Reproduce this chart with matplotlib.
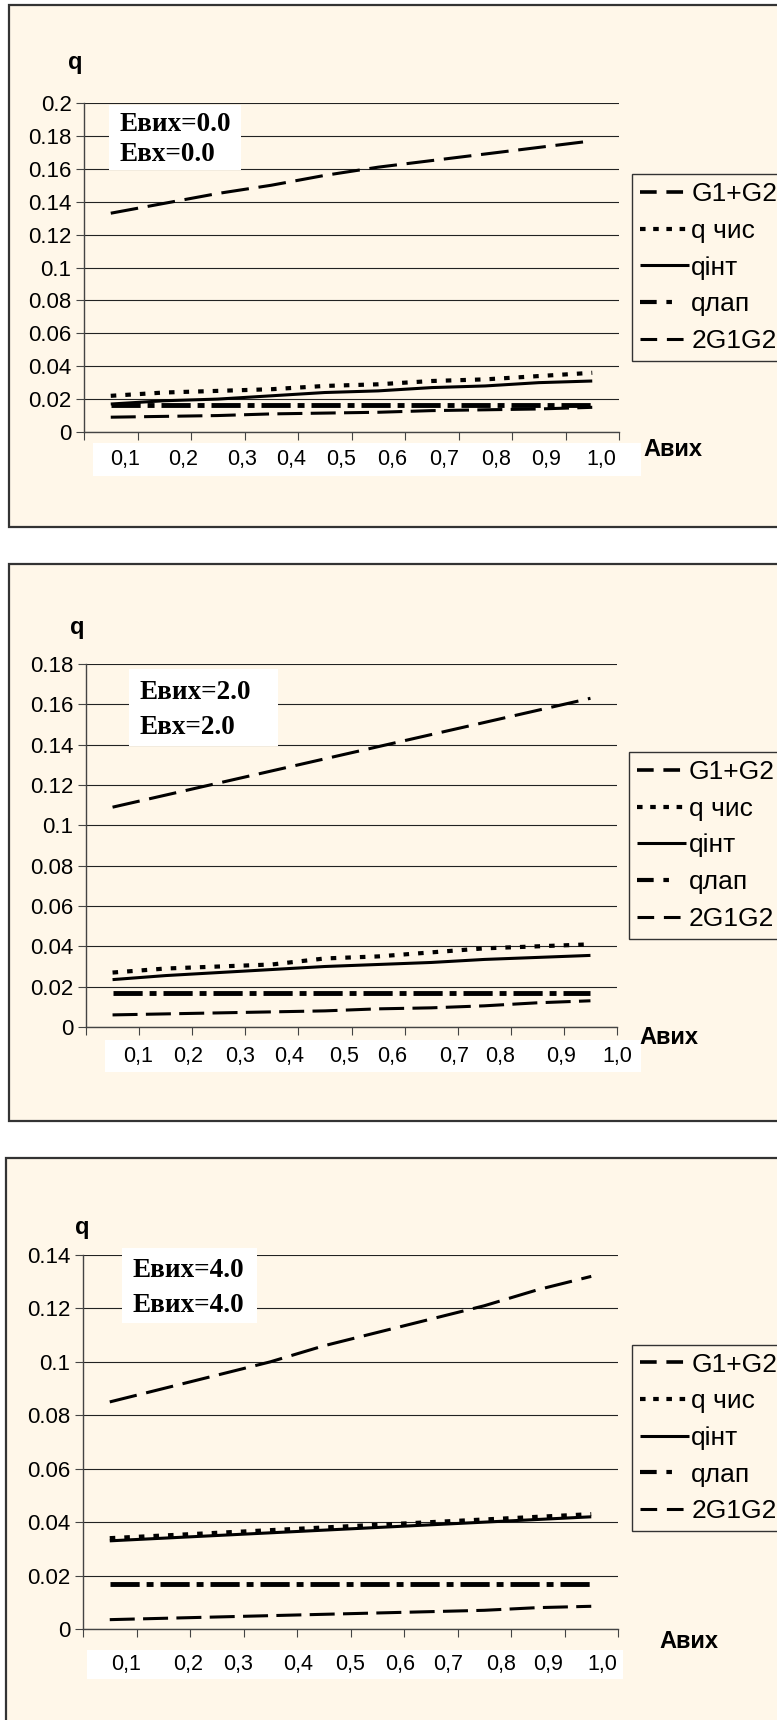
import numpy as np
import matplotlib.pyplot as plt
from matplotlib.patches import Rectangle
from matplotlib.lines import Line2D
import matplotlib.transforms as mtransforms

plt.rcParams['font.family'] = ['Liberation Sans', 'DejaVu Sans']
plt.rcParams['lines.scale_dashes'] = False

W, H = 777, 1720
BG = '#fff7e9'

# category labels of the x axis
x_labels = ['0,1', '0,2', '0,3', '0,4', '0,5', '0,6', '0,7', '0,8', '0,9', '1,0']
names = ['G1+G2', 'q чис', 'qінт', 'qлап', '2G1G2']

# panel 1 : Евих=0.0, Евх=0.0
g12_a = [0.133, 0.139, 0.145, 0.150, 0.156, 0.161, 0.165, 0.169, 0.173, 0.177]
qch_a = [0.022, 0.024, 0.025, 0.026, 0.028, 0.029, 0.031, 0.032, 0.034, 0.036]
qint_a = [0.017, 0.019, 0.020, 0.022, 0.024, 0.025, 0.027, 0.028, 0.030, 0.031]
qlap_a = [0.0165] * 10
g2_a = [0.009, 0.0095, 0.010, 0.011, 0.0115, 0.012, 0.013, 0.0135, 0.014, 0.015]

# panel 2 : Евих=2.0, Евх=2.0
g12_b = [0.109, 0.115, 0.121, 0.127, 0.133, 0.139, 0.145, 0.151, 0.157, 0.163]
qch_b = [0.027, 0.029, 0.030, 0.031, 0.034, 0.035, 0.037, 0.039, 0.040, 0.041]
qint_b = [0.0235, 0.0255, 0.027, 0.0285, 0.030, 0.031, 0.032, 0.0335, 0.0345, 0.0355]
qlap_b = [0.0167] * 10
g2_b = [0.006, 0.0065, 0.007, 0.0075, 0.008, 0.009, 0.0095, 0.0105, 0.012, 0.013]

# panel 3 : Евих=4.0 (twice, as in the source)
g12_c = [0.085, 0.090, 0.095, 0.100, 0.106, 0.111, 0.116, 0.121, 0.127, 0.132]
qch_c = [0.034, 0.035, 0.036, 0.037, 0.038, 0.039, 0.040, 0.041, 0.042, 0.043]
qint_c = [0.033, 0.034, 0.035, 0.036, 0.037, 0.038, 0.039, 0.040, 0.041, 0.042]
qlap_c = [0.0167] * 10
g2_c = [0.0035, 0.004, 0.0045, 0.005, 0.0055, 0.006, 0.0065, 0.007, 0.008, 0.0085]

styles = [
    dict(lw=2.2, dashes=(20, 7)),
    dict(lw=3.0, dashes=(4, 6.5)),
    dict(lw=2.2, linestyle='-'),
    dict(lw=3.5, dashes=(21, 5, 5, 5)),
    dict(lw=2.2, dashes=(18, 6)),
]
# shorter patterns for the legend keys
leg_styles = [
    dict(lw=2.6, dashes=(12, 7)),
    dict(lw=3.0, dashes=(4, 5.5)),
    dict(lw=2.2, linestyle='-'),
    dict(lw=3.0, dashes=(12, 7, 4, 100)),
    dict(lw=2.2, dashes=(12, 7)),
]

fig = plt.figure(figsize=(W / 100, H / 100), dpi=100, facecolor='white')


def frame(x0, y0, y1):
    r = Rectangle((x0 / W, 1 - y1 / H), 1.2, (y1 - y0) / H, transform=fig.transFigure,
                  facecolor=BG, edgecolor='#333333', lw=1.6, zorder=-10)
    fig.patches.append(r)


def panel(box, series, ymax, texts, lab_pos, band, tbox, leg, q_pos, a_pos):
    l, r, t, b = box
    ax = fig.add_axes([l / W, 1 - b / H, (r - l) / W, (b - t) / H])
    ax.set_facecolor('none')
    x = np.arange(10)
    for s, st in zip(series, styles):
        ax.plot(x, s, color='black', solid_capstyle='butt', dash_capstyle='butt', **st)
    ax.set_xlim(-0.5, 9.5)
    ax.set_ylim(0, ymax)
    ax.set_yticks(np.arange(0, ymax + 1e-9, 0.02))
    ax.yaxis.set_major_formatter(plt.FuncFormatter(lambda v, p: f'{v:g}'))
    ax.set_xticks(np.arange(-0.5, 10, 1))
    ax.set_xticklabels([])
    ax.grid(axis='y', color='#222222', lw=0.8)
    ax.set_axisbelow(True)
    for sp in ['top', 'right']:
        ax.spines[sp].set_visible(False)
    for sp in ['left', 'bottom']:
        ax.spines[sp].set_color('#444444')
        ax.spines[sp].set_linewidth(1.0)
    ax.tick_params(axis='y', length=6, width=0.8, color='#444444', labelsize=16, pad=3)
    ax.tick_params(axis='x', length=6, width=0.8, color='#444444')

    # white band with category labels
    ax.add_patch(Rectangle((band[0], band[2]), band[1] - band[0], band[3] - band[2],
                           transform=ax.transAxes, facecolor='white', edgecolor='none',
                           clip_on=False, zorder=1))
    tr = mtransforms.blended_transform_factory(ax.transData, ax.transAxes)
    ymid = (band[2] + band[3]) / 2
    for px, lab in zip(lab_pos, x_labels):
        ax.text(px, ymid, lab, transform=tr, ha='center', va='center',
                fontsize=15.5, zorder=2)

    # white box with the parameter values
    ax.add_patch(Rectangle((tbox[0], tbox[2]), tbox[1] - tbox[0], tbox[3] - tbox[2],
                           transform=ax.transAxes, facecolor='white', edgecolor='none',
                           clip_on=False, zorder=3))
    h = tbox[3] - tbox[2]
    for k, tx in enumerate(texts):
        ax.text(tbox[0] + 0.02, tbox[3] - h * (0.30 + 0.46 * k), tx, transform=ax.transAxes,
                ha='left', va='center', fontsize=19.5, fontweight='bold',
                family=['Liberation Serif', 'DejaVu Serif'], zorder=4)

    handles = [Line2D([], [], color='black', solid_capstyle='butt', dash_capstyle='butt', **st)
               for st in leg_styles]
    lg = ax.legend(handles, names, loc='upper left', bbox_to_anchor=(leg[0], leg[1]),
                   frameon=True, fancybox=False, edgecolor='#333333', facecolor=BG,
                   framealpha=1, borderaxespad=0, fontsize=19, handlelength=1.85,
                   handletextpad=0.1, labelspacing=0.48, borderpad=0.3)
    lg.get_frame().set_linewidth(1.0)

    ax.text(q_pos[0], q_pos[1], 'q', transform=ax.transAxes, fontsize=17,
            fontweight='bold', ha='left', va='center')
    ax.text(a_pos[0], a_pos[1], 'Авих', transform=ax.transAxes, fontsize=17,
            fontweight='bold', ha='left', va='center')
    return ax


frame(9, 5, 527)
frame(9, 564, 1121)
frame(6, 1158, 1760)

panel((84, 619, 103, 432), [g12_a, qch_a, qint_a, qlap_a, g2_a], 0.2,
      ['Евих=0.0', 'Евх=0.0'],
      [0.276, 1.357, 2.459, 3.378, 4.296, 5.255, 6.235, 7.194, 8.133, 9.173],
      (0.017, 1.042, -0.133, -0.034), (0.046, 0.293, 0.797, 0.993),
      (1.024, 0.783), (-0.03, 1.124), (1.046, -0.054))

panel((86, 617, 664, 1027), [g12_b, qch_b, qint_b, qlap_b, g2_b], 0.18,
      ['Евих=2.0', 'Евх=2.0'],
      [0.48, 1.42, 2.40, 3.33, 4.36, 5.27, 6.43, 7.30, 8.45, 9.50],
      (0.035, 1.045, -0.124, -0.036), (0.081, 0.362, 0.774, 0.986),
      (1.023, 0.757), (-0.03, 1.10), (1.042, -0.028))

panel((83, 618, 1255, 1629), [g12_c, qch_c, qint_c, qlap_c, g2_c], 0.14,
      ['Евих=4.0', 'Евих=4.0'],
      [0.30, 1.47, 2.40, 3.52, 4.49, 5.42, 6.33, 7.31, 8.19, 9.21],
      (0.007, 1.009, -0.135, -0.057), (0.072, 0.325, 0.817, 1.02),
      (1.026, 0.760), (-0.015, 1.074), (1.077, -0.034))

fig.savefig('out.png', dpi=100)
